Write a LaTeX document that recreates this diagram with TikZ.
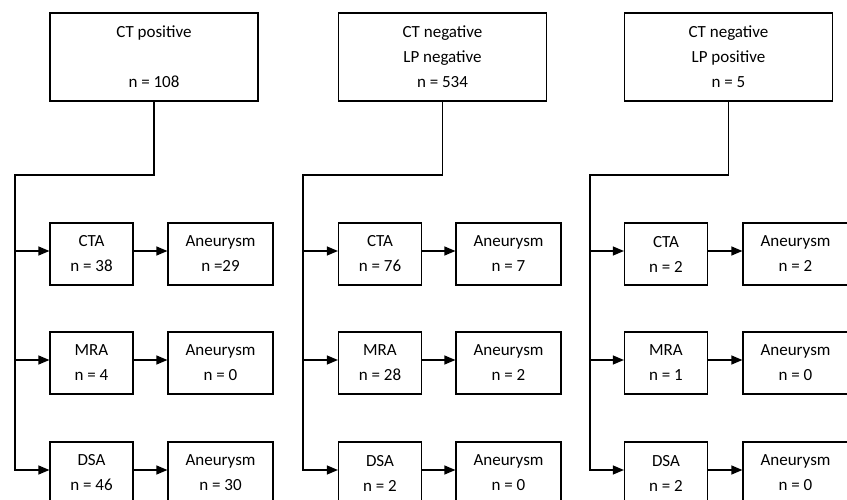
\documentclass[tikz,border=0pt]{standalone}
\usepackage{fontspec}
\setmainfont{Carlito}
\usetikzlibrary{arrows.meta}
\begin{document}
\begin{tikzpicture}[x=1pt,y=-1pt,
  box/.style={draw, line width=1.2pt, align=center, font=\fontsize{17}{25}\selectfont, inner sep=0pt},
  topbox/.style={box, minimum width=208pt, minimum height=88pt},
  smbox/.style={box, minimum width=83pt, minimum height=62pt},
  anbox/.style={box, minimum width=105pt, minimum height=62pt},
  arr/.style={-{Triangle[length=11pt,width=9pt]}, line width=1.2pt},
  ln/.style={line width=1.2pt}]
\useasboundingbox (0,0) rectangle (847,500);
% group 1
\node[topbox] (t1) at (154,57) {CT positive\\[25pt]n = 108};
\node[smbox] (c1) at (91.5,254) {CTA\\n = 38};
\node[anbox] (ca1) at (220.5,254) {Aneurysm\\n =29};
\node[smbox] (m1) at (91.5,363) {MRA\\n = 4};
\node[anbox] (ma1) at (220.5,363) {Aneurysm\\n = 0};
\node[smbox] (d1) at (91.5,473) {DSA\\n = 46};
\node[anbox] (da1) at (220.5,473) {Aneurysm\\n = 30};
\coordinate (k1) at (15,175);
% group 2
\node[topbox] (t2) at (442.5,57) {CT negative\\LP negative\\n = 534};
\node[smbox] (c2) at (380,254) {CTA\\n = 76};
\node[anbox] (ca2) at (508.5,254) {Aneurysm\\n = 7};
\node[smbox] (m2) at (380,363) {MRA\\n = 28};
\node[anbox] (ma2) at (508.5,363) {Aneurysm\\n = 2};
\node[smbox] (d2) at (380,473) {DSA\\n = 2};
\node[anbox] (da2) at (508.5,473) {Aneurysm\\n = 0};
\coordinate (k2) at (303,175);
% group 3
\node[topbox] (t3) at (728.5,57) {CT negative\\LP positive\\n = 5};
\node[smbox] (c3) at (666,254) {CTA\\n = 2};
\node[anbox] (ca3) at (795.5,254) {Aneurysm\\n = 2};
\node[smbox] (m3) at (666,363) {MRA\\n = 1};
\node[anbox] (ma3) at (795.5,363) {Aneurysm\\n = 0};
\node[smbox] (d3) at (666,473) {DSA\\n = 2};
\node[anbox] (da3) at (795.5,473) {Aneurysm\\n = 0};
\coordinate (k3) at (590,175);
\foreach \g in {1,2,3}{
  \draw[arr] (t\g.south) |- (k\g) |- ([yshift=3pt]d\g.west);
  \draw[arr] (k\g) |- ([yshift=3pt]c\g.west);
  \draw[arr] (k\g) |- ([yshift=3pt]m\g.west);
  \draw[arr] ([yshift=3pt]c\g.east) -- ([yshift=3pt]ca\g.west);
  \draw[arr] ([yshift=3pt]m\g.east) -- ([yshift=3pt]ma\g.west);
  \draw[arr] ([yshift=3pt]d\g.east) -- ([yshift=3pt]da\g.west);
}
\end{tikzpicture}
\end{document}
